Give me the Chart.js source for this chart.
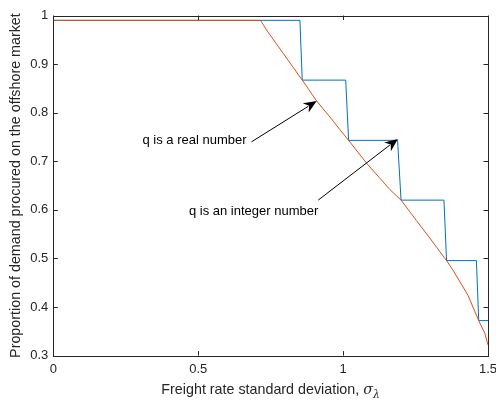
<!DOCTYPE html>
<html>
<head>
<meta charset="utf-8">
<script src="https://cdn.jsdelivr.net/npm/chart.js@4.4.1/dist/chart.umd.min.js"></script>
<style>
  html, body { margin: 0; padding: 0; background: #fff; }
  #wrap { width: 496px; height: 404px; }
</style>
</head>
<body>
<div id="wrap"><canvas id="chart" width="496" height="404"></canvas></div>
<script>
(() => {

//----- Data -----//

    // q is a real number (orange)
    var realX = [0, 0.715, 0.736, 0.859, 0.909, 0.96, 0.989, 1.019, 1.081, 1.161, 1.2, 1.253, 1.299, 1.357, 1.379, 1.408, 1.431, 1.468, 1.489, 1.5]
    var realY = [0.99, 0.99, 0.970, 0.867, 0.824, 0.787, 0.765, 0.743, 0.696, 0.642, 0.620, 0.578, 0.542, 0.4955, 0.476, 0.447, 0.424, 0.372, 0.346, 0.322]

    // q is an integer number (blue steps)
    var intX = [0, 0.851, 0.859, 1.009, 1.019, 1.188, 1.2, 1.348, 1.357, 1.46, 1.468, 1.5]
    var intY = [0.99, 0.99, 0.867, 0.867, 0.743, 0.743, 0.620, 0.620, 0.4955, 0.4955, 0.372, 0.372]

    var xTicks = [0, 0.5, 1, 1.5]
    var yTicks = [0.3, 0.4, 0.5, 0.6, 0.7, 0.8, 0.9, 1]

    var notes = [
        { text: 'q is a real number', tx: 0.3076, ty: 0.742, from: [0.684, 0.740], to: [0.909, 0.824] },
        { text: 'q is an integer number', tx: 0.468, ty: 0.596, from: [0.914, 0.620], to: [1.189, 0.746] }
    ]

//----- Helpers -----//

    var FONT = '"Liberation Sans", Arial, Helvetica, sans-serif'
    var SERIF = '"DejaVu Serif", "Liberation Serif", serif'
    var AXIS = '#262626'

    function toPoints (xs, ys) {
        var pts = []
        for (var i = 0; i < xs.length; i++) {
            pts.push({ x: xs[i], y: ys[i] })
        }
        return pts
    }

    function drawArrow (ctx, x1, y1, x2, y2) {
        var ang = Math.atan2(y2 - y1, x2 - x1)
        var len = 13, wid = 5.5
        var bx = x2 - len * Math.cos(ang), by = y2 - len * Math.sin(ang)
        ctx.beginPath()
        ctx.moveTo(x1, y1)
        ctx.lineTo(bx + 3 * Math.cos(ang), by + 3 * Math.sin(ang))
        ctx.stroke()
        ctx.beginPath()
        ctx.moveTo(x2, y2)
        ctx.lineTo(bx - wid * Math.sin(ang), by + wid * Math.cos(ang))
        ctx.lineTo(bx + 4 * Math.cos(ang), by + 4 * Math.sin(ang))
        ctx.lineTo(bx + wid * Math.sin(ang), by - wid * Math.cos(ang))
        ctx.closePath()
        ctx.fill()
    }

//----- Plugin: MATLAB style box, inner ticks, notes, x title -----//

    var matlabBox = {
        id: 'matlabBox',
        afterDraw (chart) {
            var ctx = chart.ctx
            var a = chart.chartArea
            var sx = chart.scales.x, sy = chart.scales.y
            ctx.save()
            ctx.strokeStyle = AXIS
            ctx.lineWidth = 1
            ctx.strokeRect(Math.round(a.left) + 0.5, Math.round(a.top) + 0.5,
                Math.round(a.right - a.left), Math.round(a.bottom - a.top))
            ctx.beginPath()
            xTicks.forEach(v => {
                var px = Math.round(sx.getPixelForValue(v)) + 0.5
                ctx.moveTo(px, a.bottom); ctx.lineTo(px, a.bottom - 4.5)
                ctx.moveTo(px, a.top); ctx.lineTo(px, a.top + 4.5)
            })
            yTicks.forEach(v => {
                var py = Math.round(sy.getPixelForValue(v)) + 0.5
                ctx.moveTo(a.left, py); ctx.lineTo(a.left + 4.5, py)
                ctx.moveTo(a.right, py); ctx.lineTo(a.right - 4.5, py)
            })
            ctx.stroke()

            // annotations
            ctx.fillStyle = '#000'
            ctx.strokeStyle = '#000'
            ctx.font = '13px ' + FONT
            ctx.textBaseline = 'middle'
            ctx.textAlign = 'left'
            notes.forEach(n => {
                ctx.fillText(n.text, sx.getPixelForValue(n.tx), sy.getPixelForValue(n.ty))
                drawArrow(ctx,
                    sx.getPixelForValue(n.from[0]), sy.getPixelForValue(n.from[1]),
                    sx.getPixelForValue(n.to[0]), sy.getPixelForValue(n.to[1]))
            })

            // x axis title with sigma_lambda
            var main = 'Freight rate standard deviation, '
            ctx.fillStyle = AXIS
            ctx.font = '14.3px ' + FONT
            var w1 = ctx.measureText(main).width
            ctx.font = 'italic 14.3px ' + SERIF
            var w2 = ctx.measureText('σ').width
            ctx.font = 'italic 11px ' + SERIF
            var w3 = ctx.measureText('λ').width
            var cx = (a.left + a.right) / 2
            var x0 = cx - (w1 + w2 + w3) / 2
            var ty = 390.5
            ctx.font = '14.3px ' + FONT
            ctx.fillText(main, x0, ty)
            ctx.font = 'italic 14.3px ' + SERIF
            ctx.fillText('σ', x0 + w1, ty)
            ctx.font = 'italic 11px ' + SERIF
            ctx.fillText('λ', x0 + w1 + w2, ty + 5)
            ctx.restore()
        }
    }

//----- Chart -----//

    new Chart(document.getElementById('chart'), {
        type: 'line',
        data: {
            datasets: [
                {
                    label: 'q is a real number',
                    data: toPoints(realX, realY),
                    borderColor: '#D95319',
                    borderWidth: 1,
                    pointRadius: 0,
                    tension: 0,
                    order: 0
                },
                {
                    label: 'q is an integer number',
                    data: toPoints(intX, intY),
                    borderColor: '#0072BD',
                    borderWidth: 1,
                    pointRadius: 0,
                    tension: 0,
                    order: 1
                }
            ]
        },
        options: {
            responsive: false,
            animation: false,
            devicePixelRatio: 1,
            layout: { padding: { top: 15.5, right: 8, left: 0, bottom: 0 } },
            plugins: { legend: { display: false }, tooltip: { enabled: false } },
            scales: {
                x: {
                    type: 'linear',
                    min: 0, max: 1.5,
                    afterBuildTicks: s => { s.ticks = xTicks.map(v => ({ value: v })) },
                    afterFit: s => { s.height = 404 - 355.6; s.paddingLeft = 0; s.paddingRight = 0 },
                    grid: { display: false, drawTicks: false },
                    border: { display: false },
                    ticks: { color: AXIS, font: { family: FONT, size: 13 }, padding: 6, maxRotation: 0,
                        callback: v => String(v) }
                },
                y: {
                    type: 'linear',
                    min: 0.3, max: 1,
                    afterBuildTicks: s => { s.ticks = yTicks.map(v => ({ value: v })) },
                    afterFit: s => { s.width = 53.3; s.paddingTop = 0; s.paddingBottom = 0 },
                    grid: { display: false, drawTicks: false },
                    border: { display: false },
                    ticks: { color: AXIS, font: { family: FONT, size: 13 }, padding: 5,
                        callback: v => String(v) },
                    title: {
                        display: true,
                        text: 'Proportion of demand procured on the offshore market',
                        color: AXIS,
                        font: { family: FONT, size: 14.3 },
                        padding: { top: 7, bottom: 0 }
                    }
                }
            }
        },
        plugins: [matlabBox]
    })

})();
</script>
</body>
</html>
